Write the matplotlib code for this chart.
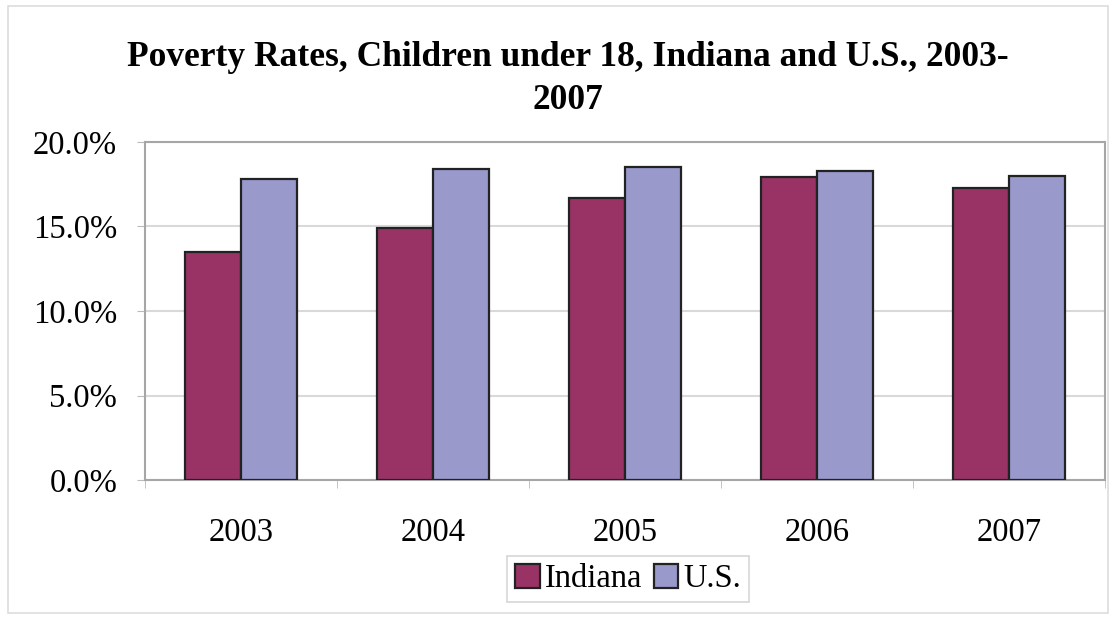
import matplotlib.pyplot as plt
import numpy as np
from matplotlib.patches import Rectangle
from matplotlib.ticker import PercentFormatter, FixedLocator

years = ['2003', '2004', '2005', '2006', '2007']
indiana = [13.5, 14.9, 16.7, 17.9, 17.3]
us = [17.8, 18.4, 18.5, 18.3, 18.0]

plt.rcParams['font.family'] = ['Liberation Serif', 'DejaVu Serif']

fig = plt.figure(figsize=(11.2, 6.19), dpi=100)
ax = fig.add_axes([145 / 1120, 1 - 480 / 619, 960 / 1120, 338 / 619])

x = np.arange(len(years))
w = 0.29
ax.bar(x - w / 2, indiana, w, color='#993366', edgecolor='#222222', linewidth=1.6, label='Indiana', zorder=3)
ax.bar(x + w / 2, us, w, color='#9999CC', edgecolor='#222222', linewidth=1.6, label='U.S.', zorder=3)

ax.set_xlim(-0.5, len(years) - 0.5)
ax.set_ylim(0, 20)
ax.set_yticks(np.arange(0, 20.1, 5))
ax.yaxis.set_major_formatter(PercentFormatter(decimals=1))
ax.set_xticks(x)
ax.set_xticklabels(years)
ax.xaxis.set_minor_locator(FixedLocator(np.arange(-0.5, len(years), 1)))
ax.tick_params(axis='x', which='major', length=0, pad=27, labelsize=23.5)
ax.tick_params(axis='x', which='minor', length=6, color='#bbbbbb', direction='out')
ax.tick_params(axis='y', length=6, color='#bbbbbb', labelsize=23.5, pad=14)
ax.grid(axis='y', color='#d9d9d9', linewidth=1.5, zorder=0)
for s in ax.spines.values():
    s.set_color('#a6a6a6')
    s.set_linewidth(1.5)

fig.text(568 / 1120, 1 - 79 / 619,
         'Poverty Rates, Children under 18, Indiana and U.S., 2003-\n2007',
         ha='center', va='center', fontsize=25.5, fontweight='bold', linespacing=1.4)

leg = ax.legend(loc='center', bbox_to_anchor=(628 / 1120, 1 - 579 / 619),
                bbox_transform=fig.transFigure, ncol=2, fontsize=23.5, frameon=True,
                fancybox=False, edgecolor='#cccccc', handlelength=0.75, handleheight=0.75,
                handletextpad=0.15, columnspacing=0.35, borderpad=0.25)
leg.get_frame().set_linewidth(1.2)

# outer chart border
fig.patches.append(Rectangle((8 / 1120, 1 - 613 / 619), 1100 / 1120, 607 / 619,
                             transform=fig.transFigure, fill=False,
                             edgecolor='#dddddd', linewidth=1.2))

fig.savefig('out.png', dpi=100)
